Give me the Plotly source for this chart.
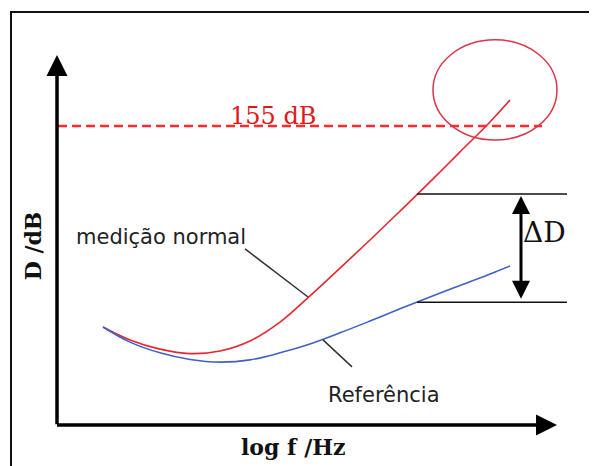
import plotly.graph_objects as go

# ---- data (schematic units: x = log f, y = D) ----
red_x = [0.92, 1.46, 2.06, 2.66, 3.26, 3.86, 4.46, 5.06, 5.66, 6.26, 6.86, 7.46, 8.06, 8.66, 9.06]
red_y = [2.65, 2.30, 2.05, 1.93, 2.00, 2.27, 2.78, 3.49, 4.24, 5.00, 5.78, 6.57, 7.38, 8.19, 8.78]
blue_x = [0.92, 1.46, 2.06, 2.66, 3.26, 3.86, 4.46, 5.06, 5.66, 6.26, 6.86, 7.46, 8.06, 8.66, 9.06]
blue_y = [2.65, 2.24, 1.95, 1.77, 1.70, 1.76, 1.95, 2.19, 2.49, 2.81, 3.14, 3.46, 3.77, 4.08, 4.30]
limit_db = 8.08          # level of the "155 dB" line
limit_label = "155 dB"
delta_top = 6.24
delta_bottom = 3.32
series_names = ["medição normal", "Referência"]
x_title = "log f /Hz"
y_title = "D /dB"

RED = "#e8262e"
BLUE = "#4060c8"
SERIF = "DejaVu Serif, serif"
SANS = "DejaVu Sans, sans-serif"

W, H = 589, 458   # page has an 8px body margin

fig = go.Figure()
fig.add_trace(go.Scatter(x=red_x, y=red_y, mode="lines", line=dict(color=RED, width=1.6, shape="spline"),
                         name=series_names[0], hoverinfo="skip"))
fig.add_trace(go.Scatter(x=blue_x, y=blue_y, mode="lines", line=dict(color=BLUE, width=1.6, shape="spline"),
                         name=series_names[1], hoverinfo="skip"))

shapes = []
# outer frame
shapes.append(dict(type="rect", xref="paper", yref="paper", x0=3/W, x1=587/W, y0=-0.05, y1=1-4/H,
                   line=dict(color="#111", width=2), layer="below"))
# 155 dB dashed line
shapes.append(dict(type="line", x0=0.02, x1=9.7, y0=limit_db, y1=limit_db,
                   line=dict(color="#ff2a2a", width=2.5, dash="9px,5px")))
# ellipse
shapes.append(dict(type="circle", x0=7.52, x1=10.0, y0=7.70, y1=10.41,
                   line=dict(color="#dc3448", width=1.5)))
# delta D reference lines
for yv in (delta_top, delta_bottom):
    shapes.append(dict(type="line", x0=7.2, x1=10.2, y0=yv, y1=yv, line=dict(color="#111", width=1.5)))
# leader lines
shapes.append(dict(type="line", x0=3.76, y0=4.76, x1=5.02, y1=3.46, line=dict(color="#333", width=1.5)))
shapes.append(dict(type="line", x0=5.32, y0=2.30, x1=5.90, y1=1.57, line=dict(color="#333", width=1.5)))

ann = []
# axes with arrows
ann.append(dict(x=0, y=10.0, ax=0, ay=-0.02, xref="x", yref="y", axref="x", ayref="y", showarrow=True,
                arrowhead=2, arrowsize=1.2, arrowwidth=3.5, arrowcolor="#000", text=""))
ann.append(dict(x=10.0, y=0, ax=-0.03, ay=0, xref="x", yref="y", axref="x", ayref="y", showarrow=True,
                arrowhead=2, arrowsize=1.2, arrowwidth=3.5, arrowcolor="#000", text=""))
# double arrow delta D
ann.append(dict(x=9.28, y=delta_top - 0.05, ax=9.28, ay=delta_bottom + 0.05, xref="x", yref="y", axref="x",
                ayref="y", showarrow=True, arrowhead=2, startarrowhead=2, arrowside="end+start",
                arrowsize=1.2, startarrowsize=1.2, arrowwidth=3, arrowcolor="#000", text=""))
# texts
ann.append(dict(x=-0.48, y=4.83, text="<b>" + y_title + "</b>", textangle=-90, showarrow=False,
                font=dict(family=SERIF, size=22, color="#111")))
ann.append(dict(x=4.72, y=-0.59, text="<b>" + x_title + "</b>", showarrow=False,
                font=dict(family=SERIF, size=22, color="#111")))
ann.append(dict(x=2.08, y=5.08, text=series_names[0], showarrow=False,
                font=dict(family=SANS, size=21, color="#222")))
ann.append(dict(x=6.54, y=0.81, text=series_names[1], showarrow=False,
                font=dict(family=SANS, size=21, color="#222")))
ann.append(dict(x=4.32, y=8.35, text=limit_label, showarrow=False,
                font=dict(family=SERIF, size=24, color="#e01818")))
ann.append(dict(x=9.74, y=5.19, text="ΔD", showarrow=False,
                font=dict(family=SERIF, size=28, color="#111")))

fig.update_layout(
    width=W, height=H,
    margin=dict(l=0, r=0, t=0, b=0),
    paper_bgcolor="white", plot_bgcolor="white",
    showlegend=False,
    xaxis=dict(range=[-0.98, 10.8], visible=False, fixedrange=True),
    yaxis=dict(range=[-1.108, 11.27], visible=False, fixedrange=True),
    shapes=shapes, annotations=ann,
)
fig.write_html("out.html")
